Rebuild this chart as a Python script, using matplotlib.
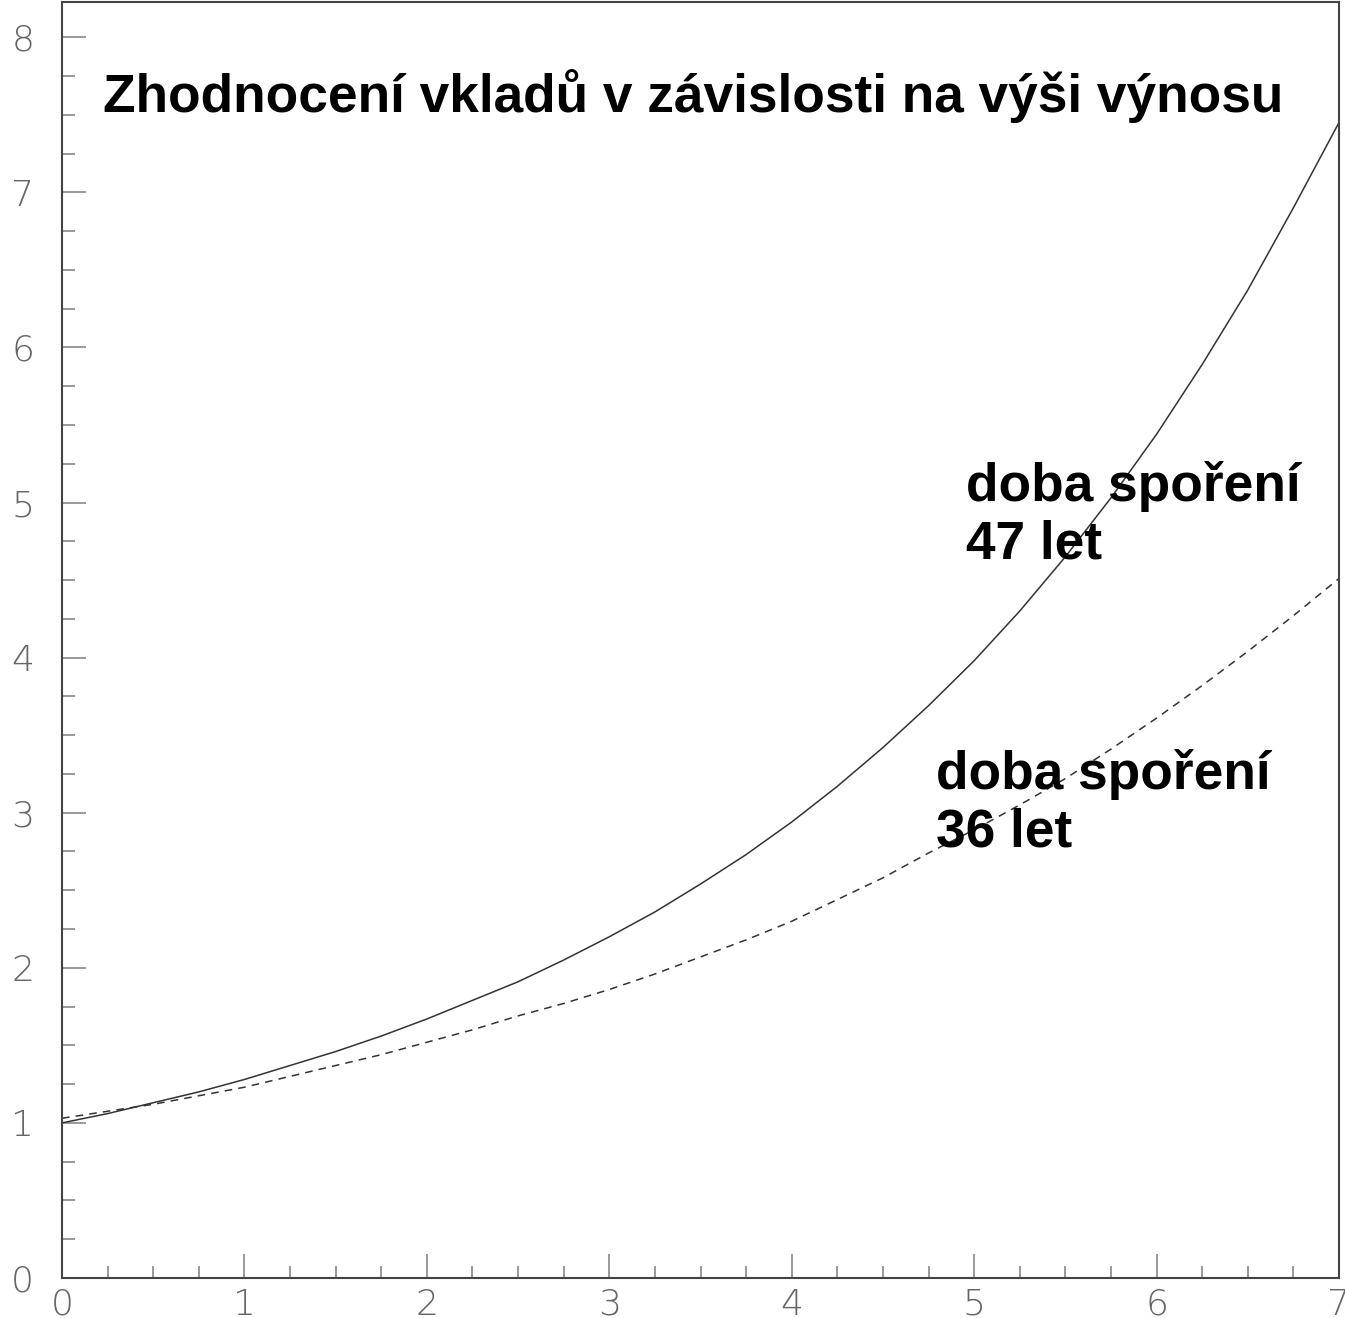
import numpy as np
import matplotlib
matplotlib.use('Agg')
import matplotlib.pyplot as plt
from matplotlib.ticker import MultipleLocator

# hodnoty (výnos v %, násobek vkladů)
vynos = [0, 0.25, 0.5, 0.75, 1, 1.25, 1.5, 1.75, 2, 2.25, 2.5, 2.75, 3, 3.25, 3.5,
         3.75, 4, 4.25, 4.5, 4.75, 5, 5.25, 5.5, 5.75, 6, 6.25, 6.5, 6.75, 7]
let_47 = [1.00, 1.06, 1.13, 1.20, 1.28, 1.37, 1.46, 1.56, 1.67, 1.79, 1.91, 2.05,
          2.20, 2.36, 2.54, 2.73, 2.94, 3.17, 3.42, 3.69, 3.98, 4.30, 4.65, 5.03,
          5.44, 5.89, 6.37, 6.90, 7.45]
let_36 = [1.03, 1.075, 1.12, 1.175, 1.23, 1.30, 1.37, 1.44, 1.52, 1.60, 1.69, 1.77,
          1.86, 1.96, 2.07, 2.18, 2.30, 2.44, 2.58, 2.74, 2.89, 3.05, 3.22, 3.41,
          3.61, 3.82, 4.04, 4.27, 4.51]

titulek = 'Zhodnocení vkladů v závislosti na výši výnosu'
popis_47 = 'doba spoření\n47 let'
popis_36 = 'doba spoření\n36 let'

plt.rcParams['font.family'] = ['Liberation Sans', 'DejaVu Sans']

fig = plt.figure(figsize=(13.45, 13.18), dpi=100)
ax = fig.add_axes([62 / 1345, 40 / 1318, 1277 / 1345, 1276 / 1318])

ax.plot(vynos, let_47, color='#333333', lw=1.1)
ax.plot(vynos, let_36, color='#333333', lw=1.1, linestyle=(0, (5, 4)))

ax.set_xlim(0, 7)
ax.set_ylim(0, 8.227)

ax.xaxis.set_major_locator(MultipleLocator(1))
ax.xaxis.set_minor_locator(MultipleLocator(0.25))
ax.yaxis.set_major_locator(MultipleLocator(1))
ax.yaxis.set_minor_locator(MultipleLocator(0.25))

ax.tick_params(which='major', direction='in', length=17, width=1.2, color='#888888',
               labelsize=26, labelcolor='#666666')
ax.tick_params(which='minor', direction='in', length=9, width=1.2, color='#888888')
ax.tick_params(axis='y', which='both', pad=20)
ax.tick_params(axis='x', which='both', pad=7)
for lab in ax.get_xticklabels() + ax.get_yticklabels():
    lab.set_family(['DejaVu Sans'])
    lab.set_fontweight('light')

for s in ax.spines.values():
    s.set_color('#444444')
    s.set_linewidth(1.5)

ax.text(0.225, 7.62, titulek, fontsize=38.3, fontweight='bold', va='center', ha='left')
ax.text(4.955, 4.92, popis_47, fontsize=38.3, fontweight='bold', va='center', ha='left',
        linespacing=1.2)
ax.text(4.79, 3.06, popis_36, fontsize=38.3, fontweight='bold', va='center', ha='left',
        linespacing=1.2)

fig.savefig('out.png', dpi=100)
